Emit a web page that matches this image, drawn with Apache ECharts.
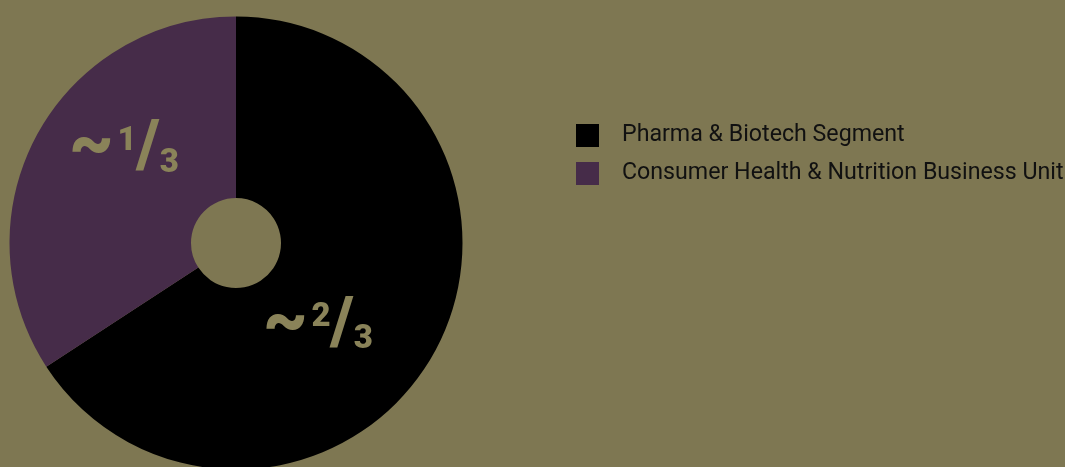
<!DOCTYPE html>
<html>
<head>
<meta charset="utf-8">
<script src="https://cdn.jsdelivr.net/npm/echarts@6/dist/echarts.min.js"></script>
<style>
html,body{margin:0;padding:0;background:#7e7752;}
#chart{width:1065px;height:467px;}
</style>
</head>
<body>
<div id="chart"></div>
<script>
const categories = ['Pharma & Biotech Segment', 'Consumer Health & Nutrition Business Unit'];
const shares = [65.8, 34.2];
const numerators = ['2', '1'];
const denominators = ['3', '3'];
const colors = ['#000000', '#462c49'];
const labelShift = [[-40, 18], [10, -26]];

const chart = echarts.init(document.getElementById('chart'));
const labelColor = '#8a8359';
const bigFont = { fontFamily: 'Roboto', fontWeight: 900, color: labelColor };

chart.setOption({
  backgroundColor: '#7e7752',
  animation: false,
  legend: {
    orient: 'vertical',
    left: 576,
    top: 124,
    padding: 0,
    itemWidth: 23,
    itemHeight: 23,
    itemGap: 15,
    icon: 'rect',
    textStyle: { fontFamily: 'Roboto', fontSize: 23.2, color: '#111111', padding: [0, 0, 5, 18] },
    data: categories
  },
  series: [{
    type: 'pie',
    center: [236, 243],
    radius: [45, 226.5],
    startAngle: 90,
    clockwise: true,
    silent: true,
    labelLine: { show: false },
    label: {
      show: true,
      position: 'inside',
      formatter: function (p) {
        return '{t|~}{n|' + numerators[p.dataIndex] + '}{s|/}{d|' + denominators[p.dataIndex] + '}';
      },
      rich: {
        t: Object.assign({ fontSize: 70, lineHeight: 66, verticalAlign: 'bottom', padding: [0, 2, 0, 0] }, bigFont),
        n: Object.assign({ fontSize: 33, lineHeight: 33, verticalAlign: 'bottom', padding: [0, 0, 26, 2] }, bigFont),
        s: Object.assign({ fontSize: 66, lineHeight: 66, verticalAlign: 'bottom' }, bigFont),
        d: Object.assign({ fontSize: 33, lineHeight: 33, verticalAlign: 'bottom', padding: [0, 0, 4, 0] }, bigFont)
      }
    },
    labelLayout: function (p) {
      const s = labelShift[p.dataIndex];
      return { dx: s[0], dy: s[1] };
    },
    data: categories.map(function (c, i) {
      return { name: c, value: shares[i], itemStyle: { color: colors[i] } };
    })
  }]
});
</script>
</body>
</html>
